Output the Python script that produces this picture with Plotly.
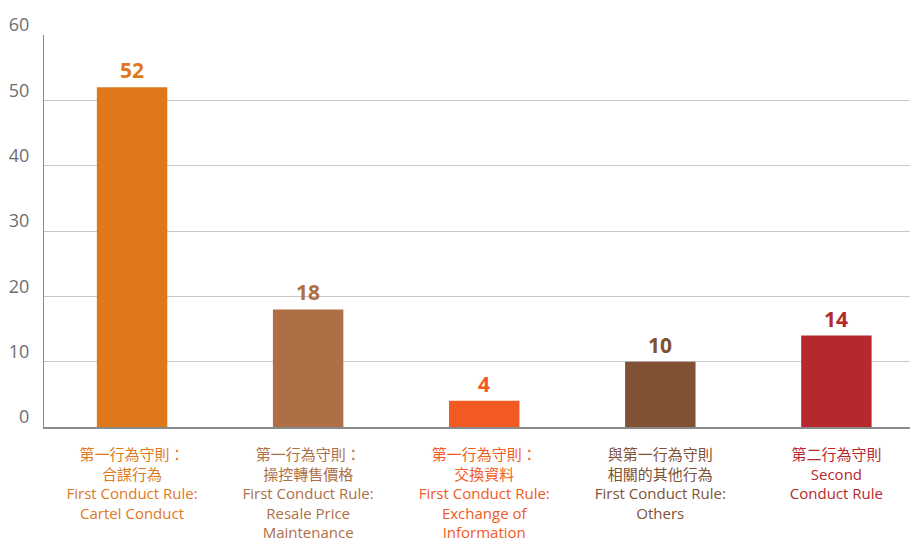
import plotly.graph_objects as go

categories = ["cartel", "rpm", "exchange", "others", "second"]
values = [52, 18, 4, 10, 14]
colors = ["#DF781D", "#AE6F47", "#F15A22", "#805133", "#B7282E"]
tick_labels = [
    "第一行為守則：<br>合謀行為<br>First Conduct Rule:<br>Cartel Conduct",
    "第一行為守則：<br>操控轉售價格<br>First Conduct Rule:<br>Resale Price<br>Maintenance",
    "第一行為守則：<br>交換資料<br>First Conduct Rule:<br>Exchange of<br>Information",
    "與第一行為守則<br>相關的其他行為<br>First Conduct Rule:<br>Others",
    "第二行為守則<br>Second<br>Conduct Rule",
]
y_ticks = [0, 10, 20, 30, 40, 50, 60]

FONT = "Open Sans, Noto Sans CJK TC, sans-serif"

fig = go.Figure()
fig.add_trace(go.Bar(
    x=categories, y=values, marker=dict(color=colors, line=dict(width=0)),
    hoverinfo="skip",
))

for c, v, col in zip(categories, values, colors):
    fig.add_annotation(
        x=c, y=v, text=f"<b>{v}</b>", showarrow=False, yanchor="bottom",
        yshift=1, font=dict(family=FONT, size=21, color=col),
    )

ticktext = [
    f"<span style='color:{col}'>{t.replace('<br>', '</span><br><span style=\"color:' + col + '\">')}</span>"
    for t, col in zip(tick_labels, colors)
]

fig.update_layout(
    width=911, height=539,
    margin=dict(l=44, r=1, t=35, b=112),
    paper_bgcolor="white", plot_bgcolor="white",
    bargap=0.6, showlegend=False,
    font=dict(family=FONT),
    xaxis=dict(
        tickmode="array", tickvals=categories, ticktext=ticktext,
        range=[-0.5, 4.418],
        tickfont=dict(family=FONT, size=15), showgrid=False,
        showline=True, linecolor="#8a8a8a", linewidth=2,
        ticks="", ticklabelstandoff=13, automargin=False,
    ),
    yaxis=dict(
        range=[0, 60], tickvals=y_ticks, showgrid=True, gridcolor="#c8c8c8",
        gridwidth=1, showline=True, linecolor="#8a8a8a", linewidth=1,
        zeroline=False, tickfont=dict(family=FONT, size=18, color="#6d6e71"),
        ticks="", ticklabelstandoff=10, ticklabelshift=-10, automargin=False,
    ),
)

fig.write_html(
    "out.html",
    config={"displayModeBar": False},
    post_script="document.body.style.margin='0';document.body.style.overflow='hidden';",
)
